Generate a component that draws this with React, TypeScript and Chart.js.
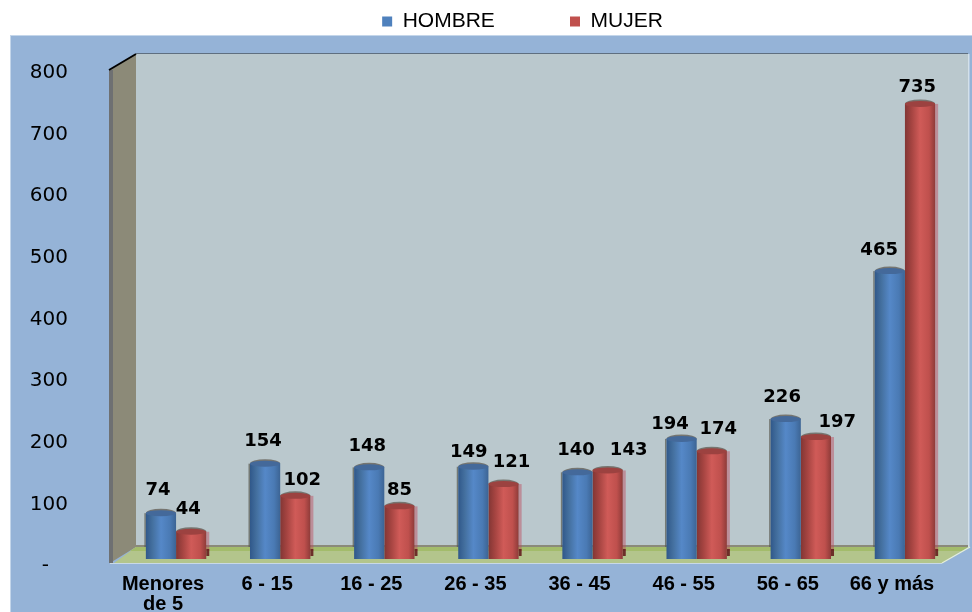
import React, { useEffect, useRef } from "react";
import { Chart, registerables } from "chart.js";

Chart.register(...registerables);

const categories = [["Menores", "de 5"], "6 - 15", "16 - 25", "26 - 35", "36 - 45", "46 - 55", "56 - 65", "66 y más"];
const hombre = [74, 154, 148, 149, 140, 194, 226, 465];
const mujer = [44, 102, 85, 121, 143, 174, 197, 735];

// Hand placement of the value labels, relative to the top of each bar
const hombreLabelShift = [[-3, -24], [-2, -23.5], [-2, -22], [-4.5, -15.6], [-1.5, -23], [-11.5, -15.7], [-3.6, -23], [-10.7, -21.7]];
const mujerLabelShift = [[-3, -23.7], [7, -16.8], [0, -17.3], [8, -23], [21, -21.3], [6.5, -23], [21.4, -16], [-2.7, -18]];

const NB = "\u00A0";

const panelPlugin = {
  id: "panel",
  beforeDraw(chart: any) {
    const { ctx, width, height, chartArea: ca } = chart;
    if (chart.legend) chart.legend.left = 88;
    ctx.save();
    ctx.fillStyle = "#95b3d7";
    ctx.fillRect(10, 35, width - 10, height - 35);
    ctx.fillStyle = "#c4d6ea";
    ctx.fillRect(10, 35, width - 10, 1);
    ctx.fillRect(10, 35, 1, height - 35);

    const backL = ca.left + 12, backR = ca.right + 11, frontL = ca.left - 14;
    const backT = ca.top + 12, frontT = ca.top + 28;
    const floorB = ca.bottom - 16, floorF = ca.bottom;

    // back wall
    ctx.fillStyle = "#bac8cd";
    ctx.fillRect(backL, backT, backR - backL, floorB - backT);
    ctx.fillStyle = "#5f6f80";
    ctx.fillRect(backL, backT - 1, backR - backL, 1);
    ctx.fillStyle = "#d3e0ea";
    ctx.fillRect(backR, backT, 1.5, floorB - backT);
    ctx.fillStyle = "#8a8a7a";
    ctx.fillRect(backL, floorB - 2, backR - backL, 2);

    // side wall
    ctx.fillStyle = "#8c8a78";
    ctx.beginPath();
    ctx.moveTo(frontL, frontT);
    ctx.lineTo(backL, backT);
    ctx.lineTo(backL, floorB);
    ctx.lineTo(frontL, floorF);
    ctx.closePath();
    ctx.fill();
    ctx.fillStyle = "#6e7072";
    ctx.fillRect(frontL - 1, frontT, 4, floorF - frontT);
    ctx.strokeStyle = "#000000";
    ctx.lineWidth = 2;
    ctx.beginPath();
    ctx.moveTo(frontL - 1, frontT);
    ctx.lineTo(backL, backT);
    ctx.stroke();

    // floor
    ctx.fillStyle = "#b3c58c";
    ctx.beginPath();
    ctx.moveTo(backL, floorB);
    ctx.lineTo(backR, floorB);
    ctx.lineTo(backR - 26, floorF);
    ctx.lineTo(frontL + 4, floorF);
    ctx.closePath();
    ctx.fill();
    ctx.fillStyle = "#a3bc6b";
    ctx.beginPath();
    ctx.moveTo(backL, floorB);
    ctx.lineTo(backR, floorB);
    ctx.lineTo(backR - 6, floorB + 4);
    ctx.lineTo(backL - 6, floorB + 4);
    ctx.closePath();
    ctx.fill();
    ctx.strokeStyle = "#e6efd8";
    ctx.lineWidth = 1.2;
    ctx.beginPath();
    ctx.moveTo(backR - 26, floorF);
    ctx.lineTo(backR + 2, floorB);
    ctx.stroke();
    ctx.fillStyle = "#c9d9e6";
    ctx.fillRect(frontL, floorF, backR - 26 - frontL, 1);
    ctx.restore();
  },
  beforeDatasetsDraw(chart: any) {
    const { ctx } = chart;
    chart.data.datasets.forEach((ds: any, di: number) => {
      const meta = chart.getDatasetMeta(di);
      const isRed = di === 1;
      meta.data.forEach((el: any) => {
        const l = el.x - el.width / 2, r = el.x + el.width / 2;
        const g = ctx.createLinearGradient(l, 0, r, 0);
        if (isRed) {
          g.addColorStop(0, "#823634");
          g.addColorStop(0.22, "#a54441");
          g.addColorStop(0.5, "#d05b58");
          g.addColorStop(0.8, "#bf504d");
          g.addColorStop(1, "#8e3b39");
        } else {
          g.addColorStop(0, "#30588a");
          g.addColorStop(0.22, "#44709f");
          g.addColorStop(0.5, "#5588c8");
          g.addColorStop(0.8, "#4a7ab4");
          g.addColorStop(1, "#3c6494");
        }
        el.options = Object.assign({}, el.options, { backgroundColor: g });

        // soft shadow
        ctx.save();
        if (isRed) {
          ctx.fillStyle = "rgba(190,70,90,0.45)";
          ctx.fillRect(r, el.y, 3, el.base - el.y - 8);
          ctx.fillStyle = "rgba(100,30,30,0.9)";
          ctx.fillRect(r, el.base - 10, 3, 7);
        } else {
          ctx.fillStyle = "rgba(90,90,80,0.7)";
          ctx.fillRect(l - 1.5, el.y, 1.5, el.base - el.y - 12);
        }
        ctx.restore();
      });
    });
  },
  afterDatasetsDraw(chart: any) {
    const { ctx } = chart;
    chart.data.datasets.forEach((ds: any, di: number) => {
      const meta = chart.getDatasetMeta(di);
      const isRed = di === 1;
      const shifts = isRed ? mujerLabelShift : hombreLabelShift;
      meta.data.forEach((el: any, i: number) => {
        ctx.save();
        ctx.fillStyle = "rgba(95,90,80,0.75)";
        ctx.beginPath();
        ctx.ellipse(el.x, el.y, el.width / 2, 4.5, 0, Math.PI, 0);
        ctx.fill();
        ctx.fillStyle = isRed ? "#9c4240" : "#44699a";
        ctx.beginPath();
        ctx.ellipse(el.x, el.y, el.width / 2, 3, 0, 0, Math.PI * 2);
        ctx.fill();
        ctx.restore();
      });
      ctx.save();
      ctx.font = 'bold 18px "DejaVu Sans"';
      ctx.fillStyle = "#000000";
      ctx.textAlign = "center";
      ctx.textBaseline = "middle";
      meta.data.forEach((el: any, i: number) => {
        ctx.fillText(String(ds.data[i]), el.x + shifts[i][0], el.y + shifts[i][1] + 1);
      });
      ctx.restore();
    });
  },
};

export default function App() {
  const ref = useRef<HTMLCanvasElement>(null);
  useEffect(() => {
    const chart = new Chart(ref.current as HTMLCanvasElement, {
      type: "bar",
      data: {
        labels: categories as any,
        datasets: [
          { label: "HOMBRE", data: hombre, backgroundColor: "#4f81bd", yAxisID: "y", categoryPercentage: 0.58, barPercentage: 1 },
          { label: "MUJER", data: mujer, backgroundColor: "#c0504d", yAxisID: "y", categoryPercentage: 0.58, barPercentage: 1 },
        ],
      },
      plugins: [panelPlugin],
      options: {
        responsive: false,
        animation: false,
        layout: { padding: { left: 0, right: 15, top: 0, bottom: 0 } },
        plugins: {
          tooltip: { enabled: false },
          legend: {
            display: true,
            position: "top",
            labels: {
              boxWidth: 10,
              boxHeight: 10,
              padding: 11,
              color: "#000000",
              font: { family: '"Liberation Sans"', size: 21 },
              generateLabels(c: any) {
                return (Chart.defaults.plugins.legend.labels as any).generateLabels(c).map((it: any, i: number) => ({
                  ...it,
                  lineWidth: 0,
                  text: i === 0 ? it.text + NB.repeat(11) : it.text,
                }));
              },
            },
          },
        },
        scales: {
          x: {
            grid: { display: false },
            border: { display: false },
            afterFit(s: any) { s.height = 49; },
            ticks: {
              autoSkip: false,
              maxRotation: 0,
              padding: 3,
              labelOffset: -13,
              color: "#000000",
              font: { family: '"Liberation Sans"', size: 20, weight: "bold", lineHeight: 1 },
            },
          },
          y: { display: false, min: -6.47, max: 835 },
          y2: {
            position: "left",
            min: 0,
            max: 845.5,
            grid: { display: true, drawOnChartArea: false, drawTicks: true, tickLength: 56, tickColor: "rgba(0,0,0,0)" },
            border: { display: false },
            afterFit(s: any) { s.width = 124; },
            ticks: {
              stepSize: 100,
              includeBounds: false,
              padding: 0,
              labelOffset: 3,
              color: "#000000",
              font: { family: '"DejaVu Sans"', size: 20 },
              callback: (v: any) => (v === 0 ? "-" + NB.repeat(3) : String(v)),
            },
          },
        },
      } as any,
    } as any);
    return () => chart.destroy();
  }, []);
  return <canvas ref={ref} width={972} height={612} style={{ position: "absolute", left: 0, top: 0, width: 972, height: 612 }} />;
}
